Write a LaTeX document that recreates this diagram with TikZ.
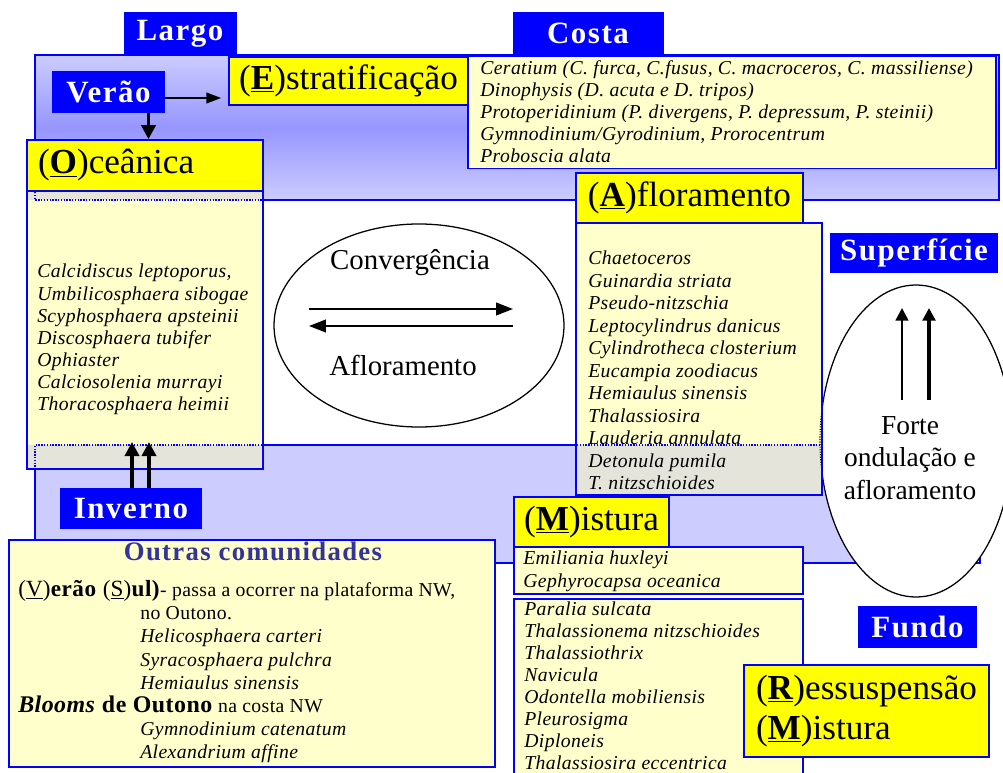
\documentclass[tikz,border=0pt]{standalone}
\usepackage{fontspec}
\setmainfont{Liberation Serif}
\newfontfamily\hdfont[LetterSpace=5]{Liberation Serif}
\newfontfamily\spfont[LetterSpace=2]{Liberation Serif}
\usetikzlibrary{shapes.geometric, arrows.meta}

\definecolor{hdblue}{RGB}{0,0,255}
\definecolor{hdyellow}{RGB}{255,255,0}
\definecolor{paleyellow}{RGB}{255,255,204}
\definecolor{bandlight}{RGB}{204,204,255}
\definecolor{banddark}{RGB}{150,150,255}
\definecolor{overlapgrey}{RGB}{228,228,218}
\definecolor{titleblue}{RGB}{51,51,153}

\newlength{\pxu}
\setlength{\pxu}{0.025cm}
\newcommand{\keyl}[1]{(\underline{\textbf{#1}})}

\begin{document}
\begin{tikzpicture}[x=0.025cm, y=-0.025cm,
    hdbox/.style={fill=hdblue, text=white, inner sep=0pt, font=\hdfont\bfseries\fontsize{22}{24}\selectfont},
    keybox/.style={draw=hdblue, line width=1.1pt, fill=hdyellow, inner sep=0pt, font=\fontsize{25}{28}\selectfont},
    listbox/.style={draw=hdblue, line width=1.1pt, fill=paleyellow, inner sep=0pt},
    band/.style={draw=hdblue, line width=1.1pt, inner sep=0pt},
    species/.style={anchor=north west, inner sep=0pt, align=left, font=\spfont\fontsize{14}{15.7}\selectfont\itshape},
    thinarr/.style={line width=1.4pt, -{Triangle[length=10.5pt, width=7.5pt]}},
    boldarr/.style={line width=2.8pt, -{Triangle[length=10pt, width=10pt]}},
    convarr/.style={line width=1.3pt, -{Triangle[length=12pt, width=9pt]}},
    uparr/.style={-{Triangle[length=9pt, width=9pt]}}]

    \clip (0,0) rectangle (1003,773);
    \fill[white] (0,0) rectangle (1003,773);

    % shelf bands
    \node(topband)[band, minimum width=964\pxu, minimum height=145\pxu, top color=bandlight, bottom color=bandlight, middle color=banddark] at (517,127.5) {};
    \node(botband)[band, fill=bandlight, minimum width=945\pxu, minimum height=118\pxu] at (507.5,504) {};

    \node(convell)[ellipse, draw, fill=white, line width=0.9pt, inner sep=0pt, minimum width=290\pxu, minimum height=203\pxu] at (419,325.5) {};
    \node(ondell)[ellipse, draw, fill=white, line width=0.9pt, inner sep=0pt, minimum width=192\pxu, minimum height=312\pxu] at (916,441) {};

    \node(largo)[hdbox, minimum width=113\pxu, minimum height=43\pxu] at (180,33.5) {Largo};
    \node(costa)[hdbox, minimum width=151\pxu, minimum height=43\pxu] at (588,33.5) {Costa};
    \node(verao)[hdbox, minimum width=113\pxu, minimum height=42\pxu] at (108.5,92) {Verão};
    \node(inverno)[hdbox, minimum width=142\pxu, minimum height=41\pxu] at (131,508.5) {Inverno};
    \node(superf)[hdbox, minimum width=168\pxu, minimum height=40\pxu] at (914,253) {Superfície};
    \node(fundo)[hdbox, minimum width=119\pxu, minimum height=42\pxu] at (917.5,627) {Fundo};

    \node(costalist)[listbox, minimum width=528\pxu, minimum height=112.5\pxu] at (732,112.3) {};
    \node(oceanlist)[listbox, minimum width=236\pxu, minimum height=278\pxu] at (145,330) {};
    \node(aflorlist)[listbox, minimum width=246\pxu, minimum height=272\pxu] at (699,359) {};
    \node(mistlist)[listbox, minimum width=289\pxu, minimum height=47\pxu] at (658.5,570.5) {};
    \node(sedlist)[listbox, minimum width=289\pxu, minimum height=190\pxu] at (658.5,694) {};
    \node(outras)[listbox, minimum width=486\pxu, minimum height=227\pxu] at (252,653.5) {};

    % band seen through the lists
    \fill[overlapgrey] (27.8,191.8) rectangle (262.2,200);
    \draw[hdblue, densely dotted, line width=1pt] (35,192) -- (35,200) -- (262,200);
    \fill[overlapgrey] (27.8,445) rectangle (262.2,468.2);
    \draw[hdblue, densely dotted, line width=1pt] (262,445) -- (35,445) -- (35,468);
    \fill[overlapgrey] (576.8,445) rectangle (821.2,494.2);
    \draw[hdblue, densely dotted, line width=1pt] (577,445) -- (821,445);
    \begin{scope}
        \clip (576.8,223.8) rectangle (821.2,494.2);
        \draw[densely dotted, line width=0.8pt] (ondell.center) ellipse [x radius=96, y radius=156];
    \end{scope}

    \node(estrat)[keybox, minimum width=239\pxu, minimum height=48\pxu] at (348.5,81) {\keyl{E}stratificação};
    \node(oceanica)[keybox, minimum width=236\pxu, minimum height=51\pxu, text width=214\pxu, align=left] at (145,165.5) {\keyl{O}ceânica};
    \node(aflor)[keybox, minimum width=227\pxu, minimum height=50\pxu] at (689.5,198) {\keyl{A}floramento};
    \node(mistura)[keybox, minimum width=155\pxu, minimum height=50\pxu] at (591.5,522) {\keyl{M}istura};
    \node(ressus)[keybox, minimum width=245\pxu, minimum height=92\pxu, align=left, font=\fontsize{25}{28.5}\selectfont] at (866.5,711) {\keyl{R}essuspensão\\\keyl{M}istura};

    \node(costatxt)[species] at (480,60.5) {Ceratium (C. furca, C.fusus, C. macroceros, C. massiliense)\\
        Dinophysis (D. acuta e D. tripos)\\
        Protoperidinium (P. divergens, P. depressum, P. steinii)\\
        Gymnodinium/Gyrodinium, Prorocentrum\\
        Proboscia alata};
    \node(oceantxt)[species] at (37,264) {Calcidiscus leptoporus,\\
        Umbilicosphaera sibogae\\
        Scyphosphaera apsteinii\\
        Discosphaera tubifer\\
        Ophiaster\\
        Calciosolenia murrayi\\
        Thoracosphaera heimii};
    \node(aflortxt)[species, font=\spfont\fontsize{14}{16}\selectfont\itshape] at (588,251) {Chaetoceros\\
        Guinardia striata\\
        Pseudo-nitzschia\\
        Leptocylindrus danicus\\
        Cylindrotheca closterium\\
        Eucampia zoodiacus\\
        Hemiaulus sinensis\\
        Thalassiosira\\
        Lauderia annulata\\
        Detonula pumila\\
        T. nitzschioides};
    \node(misttxt)[species, font=\spfont\fontsize{14}{16.3}\selectfont\itshape] at (523,550.5) {Emiliania huxleyi\\
        Gephyrocapsa oceanica};
    \node(sedtxt)[species] at (524,601.5) {Paralia sulcata\\
        Thalassionema nitzschioides\\
        Thalassiothrix\\
        Navicula\\
        Odontella mobiliensis\\
        Pleurosigma\\
        Diploneis\\
        Thalassiosira eccentrica};

    \node(outrastitle)[text=titleblue, font=\hdfont\bfseries\fontsize{19}{20}\selectfont] at (253,551) {Outras comunidades};
    \node(outrastxt)[anchor=north west, inner sep=0pt, align=left, font=\spfont\fontsize{14}{16.5}\selectfont] at (18,580) {%
        {\fontsize{16.5}{16.5}\selectfont(\underline{V})\textbf{erão} (\underline{S})\textbf{ul)}}- passa a ocorrer na plataforma NW,\\
        \hspace*{122\pxu}no Outono.\\
        \hspace*{122\pxu}\textit{Helicosphaera carteri}\\
        \hspace*{122\pxu}\textit{Syracosphaera pulchra}\\
        \hspace*{122\pxu}\textit{Hemiaulus sinensis}\\
        {\fontsize{17}{16.5}\selectfont\textbf{\textit{Blooms} de Outono}} na costa NW\\
        \hspace*{122\pxu}\textit{Gymnodinium catenatum}\\
        \hspace*{122\pxu}\textit{Alexandrium affine}};

    \node(convtxt)[anchor=base, font=\fontsize{20.5}{22}\selectfont] at (410,270) {Convergência};
    \node(afltxt)[anchor=base, font=\fontsize{20.5}{22}\selectfont] at (403,375) {Afloramento};
    \node(fortetxt)[align=center, font=\fontsize{19.5}{23}\selectfont] at (910,458) {Forte\\ondulação e\\afloramento};

    % arrows
    \coordinate (vstart) at ([yshift=-6\pxu]verao.east);
    \draw[thinarr, shorten >=7\pxu] (vstart) -- (vstart -| estrat.west);
    \coordinate (vdrop) at ([xshift=40\pxu]verao.south);
    \draw[boldarr] (vdrop) -- (vdrop |- oceanica.north);

    \coordinate (w1) at (132,442);
    \coordinate (w2) at (149,442);
    \draw[boldarr] (w1 |- inverno.north) -- (w1);
    \draw[boldarr] (w2 |- inverno.north) -- (w2);

    \coordinate (ca) at (309,309);
    \coordinate (cb) at (513,309);
    \coordinate (cc) at (513,326);
    \coordinate (cd) at (309,326);
    \draw[convarr] (ca) -- (cb);
    \draw[convarr] (cc) -- (cd);

    \coordinate (u1) at (902,308);
    \coordinate (u1b) at (902,400);
    \coordinate (u2) at (929,308);
    \coordinate (u2b) at (929,400);
    \draw[uparr, line width=1.8pt] (u1b) -- (u1);
    \draw[uparr, line width=2.8pt] (u2b) -- (u2);
\end{tikzpicture}
\end{document}
